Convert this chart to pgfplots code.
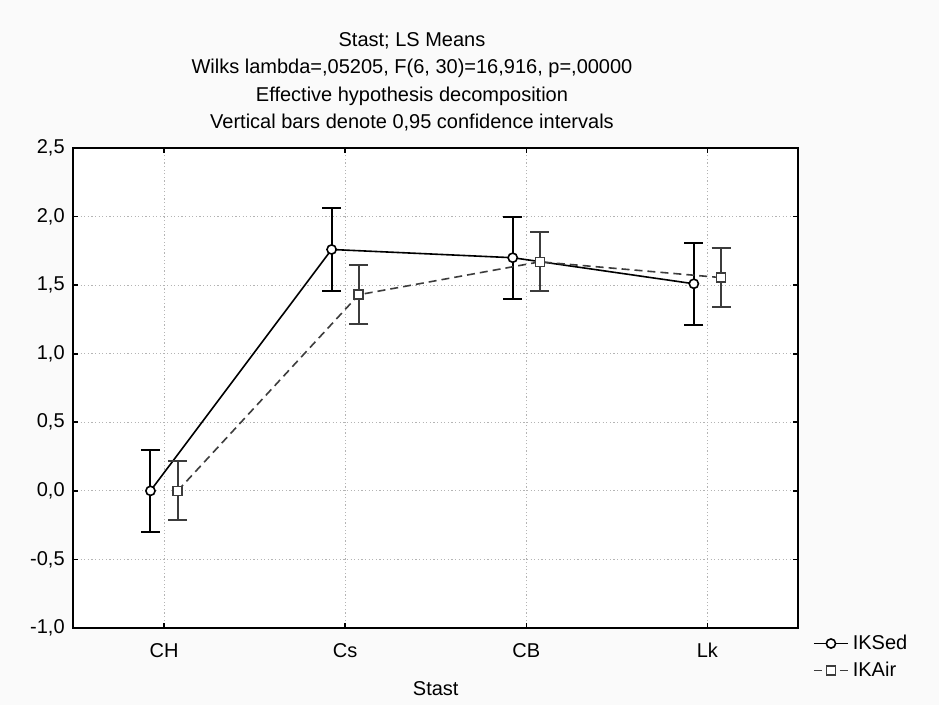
\documentclass[border=0pt]{standalone}
\usepackage{fontspec}
\setmainfont{Liberation Sans}
\usepackage{pgfplots}
\pgfplotsset{compat=1.18}
\definecolor{bgcol}{RGB}{250,250,250}
\definecolor{airgray}{RGB}{60,60,60}
\definecolor{gridgray}{RGB}{180,180,180}

\begin{document}
\begin{tikzpicture}[font=\fontsize{10}{12}\selectfont]
% page background (1px of the reference = 0.5pt)
\fill[bgcol] (0,0) rectangle (469.5pt,352.5pt);

\begin{axis}[
    at={(36.75pt,38.5pt)}, anchor=south west,
    scale only axis,
    width=362.25pt, height=240pt,
    xmin=-0.5, xmax=3.5,
    ymin=-1, ymax=2.5,
    xtick={0,1,2,3},
    xticklabels={CH,Cs,CB,Lk},
    ytick={-1,-0.5,0,0.5,1,1.5,2,2.5},
    tick align=inside,
    major tick length=2.5pt,
    tick style={black, line width=0.8pt},
    axis line style={black, line width=1pt},
    axis background/.style={fill=white},
    grid=major,
    grid style={gridgray, line width=0.5pt, dash pattern=on 0.6pt off 1.2pt},
    xticklabel style={anchor=base, yshift=-15pt},
    yticklabel style={
        xshift=-0.9pt,
        /pgf/number format/fixed,
        /pgf/number format/fixed zerofill,
        /pgf/number format/precision=1,
        /pgf/number format/use comma,
        /pgf/number format/assume math mode=true
    },
    xlabel={Stast},
    xlabel style={at={(axis description cs:0.5,0)}, anchor=base, yshift=-34pt},
    legend style={
        at={(axis description cs:1,0)}, anchor=north west,
        xshift=4.35pt, yshift=0.8pt,
        draw=none, fill=none,
        row sep=0.7pt,
        font=\fontsize{10}{12}\selectfont
    },
    legend cell align=left,
    every error bar/.append style={line width=1pt}
]

\addplot[
    black, line width=0.8pt,
    mark=*, mark size=2.3pt,
    mark options={fill=white, draw=black, solid},
    error bars/.cd,
        y dir=both, y explicit,
        error bar style={black, line width=1pt, solid},
        error mark=|,
        error mark options={black, mark size=4.75pt, line width=1pt, solid}
] coordinates {
    (-0.075,0.00) +- (0,0.30)
    (0.925,1.76) +- (0,0.30)
    (1.925,1.70) +- (0,0.30)
    (2.925,1.51) +- (0,0.30)
};

\addplot[
    airgray, line width=0.8pt,
    dash pattern=on 4pt off 2.5pt,
    mark=square*, mark size=2.25pt,
    mark options={fill=white, draw=airgray, solid},
    error bars/.cd,
        y dir=both, y explicit,
        error bar style={airgray, line width=1pt, solid},
        error mark=|,
        error mark options={airgray, mark size=4.75pt, line width=1pt, solid}
] coordinates {
    (0.075,0.00) +- (0,0.215)
    (1.075,1.43) +- (0,0.215)
    (2.075,1.67) +- (0,0.215)
    (3.075,1.555) +- (0,0.215)
};

\legend{IKSed, IKAir}
\end{axis}

% title lines
\node[anchor=base] at (206pt,329.15pt) {Stast; LS Means};
\node[anchor=base] at (206pt,315.5pt) {Wilks lambda=,05205, F(6, 30)=16,916, p=,00000};
\node[anchor=base] at (206pt,301.85pt) {Effective hypothesis decomposition};
\node[anchor=base] at (206pt,288.2pt) {Vertical bars denote 0,95 confidence intervals};
\end{tikzpicture}
\end{document}
